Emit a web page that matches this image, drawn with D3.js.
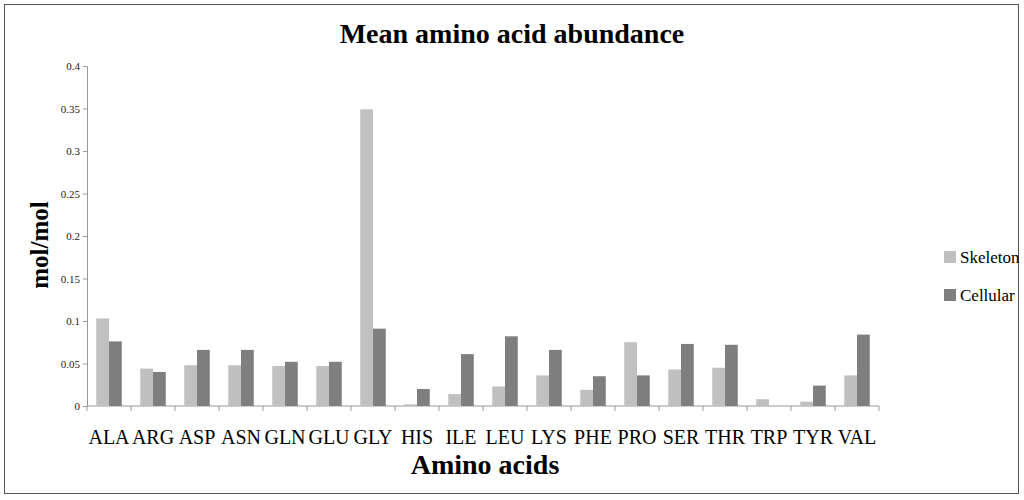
<!DOCTYPE html>
<html><head><meta charset="utf-8">
<script src="https://cdn.jsdelivr.net/npm/d3@7"></script>
<style>body{margin:0;background:#fff}</style></head>
<body><svg id="chart"></svg>
<script>
const categories = ['ALA','ARG','ASP','ASN','GLN','GLU','GLY','HIS','ILE','LEU','LYS','PHE','PRO','SER','THR','TRP','TYR','VAL'];
const skeleton = [0.103,0.044,0.048,0.048,0.047,0.047,0.349,0.002,0.014,0.023,0.036,0.019,0.075,0.043,0.045,0.008,0.005,0.036];
const cellular = [0.076,0.040,0.066,0.066,0.052,0.052,0.091,0.020,0.061,0.082,0.066,0.035,0.036,0.073,0.072,0,0.024,0.084];
const seriesNames = ['Skeleton','Cellular'];
const yTicks = [0,0.05,0.1,0.15,0.2,0.25,0.3,0.35,0.4];

const W = 1024, H = 500;
const m = {left:87, right:145, top:66, bottom:94};
const iw = W - m.left - m.right, ih = H - m.top - m.bottom;
const colors = ['#c0c0c0','#7f7f7f'];
const font = 'Liberation Serif, Times New Roman, serif';

const svg = d3.select('#chart').attr('width', W).attr('height', H);
svg.append('rect').attr('x',4.5).attr('y',4.5).attr('width',1014).attr('height',489)
  .attr('fill','none').attr('stroke','#555').attr('stroke-width',1);

const chart = svg.append('g').attr('transform', `translate(${m.left},${m.top})`);
const x = d3.scaleBand().domain(categories).range([0, iw]).paddingInner(0.42).paddingOuter(0.21);
const xs = d3.scaleBand().domain(seriesNames).range([0, x.bandwidth()]);
const y = d3.scaleLinear().domain([0,0.4]).range([ih,0]);

const yAxis = chart.append('g').call(d3.axisLeft(y).tickValues(yTicks).tickFormat(d => d3.format('')(+d.toFixed(2))).tickSize(4).tickSizeOuter(0));
yAxis.select('.domain').attr('stroke','#999');
yAxis.selectAll('line').attr('stroke','#999');
yAxis.selectAll('text').attr('font-family',font).attr('font-size',11).attr('fill','#222');

const step = iw / categories.length;
const xg = chart.append('g').attr('transform',`translate(0,${ih})`);
xg.append('line').attr('x1',0).attr('x2',iw).attr('stroke','#999');
xg.selectAll('.tk').data(d3.range(categories.length+1)).join('line')
  .attr('x1',d=>d*step).attr('x2',d=>d*step).attr('y1',0).attr('y2',5).attr('stroke','#999');
xg.selectAll('.lbl').data(categories).join('text')
  .attr('x',d=>x(d)+x.bandwidth()/2).attr('y',38).attr('text-anchor','middle')
  .attr('font-family',font).attr('font-size',20).text(d=>d);

const groups = chart.selectAll('.grp').data(categories).join('g')
  .attr('transform', d => `translate(${x(d)},0)`);
[skeleton, cellular].forEach((vals, si) => {
  groups.append('rect')
    .attr('x', xs(seriesNames[si]))
    .attr('y', (d,i) => y(vals[i]))
    .attr('width', xs.bandwidth())
    .attr('height', (d,i) => ih - y(vals[i]))
    .attr('fill', colors[si]);
});

svg.append('text').attr('x',512).attr('y',43).attr('text-anchor','middle')
  .attr('font-family',font).attr('font-weight','bold').attr('font-size',28).text('Mean amino acid abundance');
svg.append('text').attr('x',485).attr('y',474).attr('text-anchor','middle')
  .attr('font-family',font).attr('font-weight','bold').attr('font-size',28).text('Amino acids');
svg.append('text').attr('transform','rotate(-90)').attr('x',-245).attr('y',48).attr('text-anchor','middle')
  .attr('font-family',font).attr('font-weight','bold').attr('font-size',25).text('mol/mol');

const legend = svg.append('g').attr('transform','translate(944,251)');
seriesNames.forEach((s,i) => {
  legend.append('rect').attr('x',0).attr('y',i*38).attr('width',12).attr('height',12).attr('fill',colors[i]);
  legend.append('text').attr('x',16).attr('y',i*38+12).attr('font-family',font).attr('font-size',17).text(s);
});
</script></body></html>
